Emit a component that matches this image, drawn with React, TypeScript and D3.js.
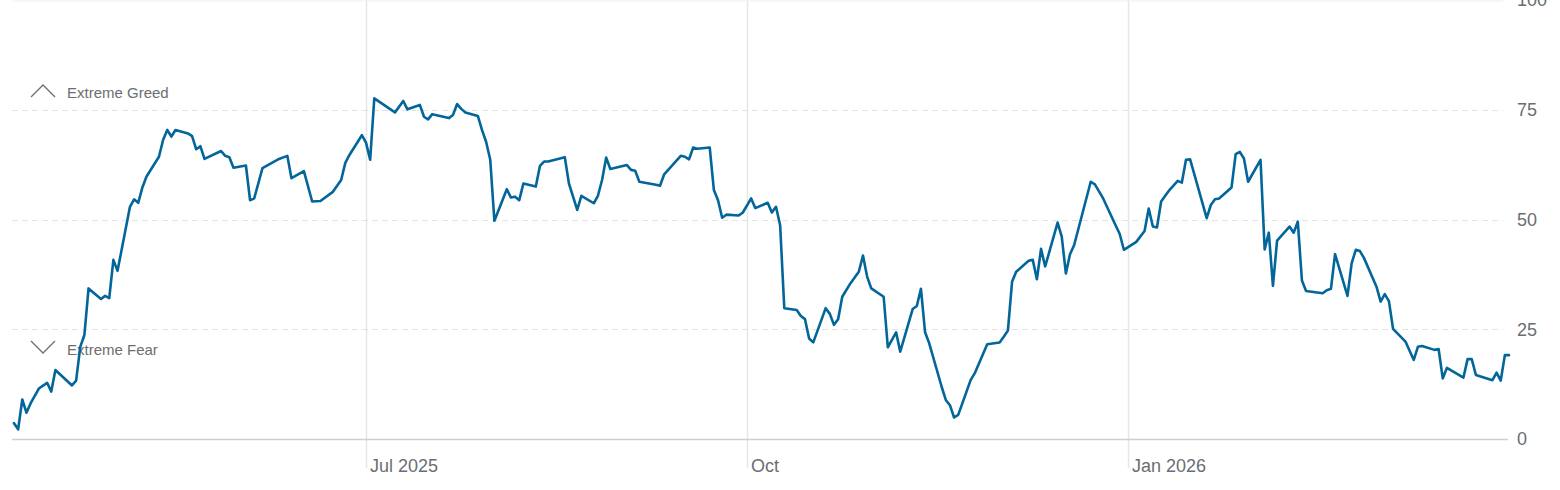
import React from "react";
import * as d3 from "d3";

// ---- data ----
const START_DATE = "2025-04-07";
const END_DATE = "2026-04-03";
// days since START_DATE
const dayOffsets = [0,1,2,3,4,6,8,9,10,14,15,16,17,18,21,22,23,24,25,28,29,30,31,32,35,36,37,38,39,42,43,44,45,46,50,51,52,53,56,57,58,60,64,66,67,70,72,74,77,79,80,81,84,85,86,87,92,94,95,98,99,100,101,105,106,107,108,109,112,113,114,115,116,119,120,121,122,123,126,127,128,129,133,134,136,137,140,141,142,143,144,148,149,150,151,155,156,157,161,162,163,164,165,168,169,170,171,172,175,176,178,179,182,183,184,185,186,189,190,191,192,193,196,197,198,199,200,202,204,205,206,207,210,211,212,213,214,217,218,219,220,221,224,225,226,227,228,231,232,235,238,239,240,241,242,245,246,247,248,249,252,253,254,255,256,260,261,263,266,267,268,271,273,274,275,276,277,279,281,282,283,284,288,289,290,291,294,295,296,297,298,301,302,303,304,305,308,309,310,311,312,316,317,318,319,322,323,324,325,326,329,330,331,332,333,336,338,339,340,343,344,345,346,350,351,352,353,357,358,359,360,361];
const fearGreed = [3.6,2.2,9.0,6.0,8.1,11.5,12.8,10.8,15.7,12.2,13.3,21.0,23.7,34.3,31.9,32.6,32.1,40.8,38.3,52.9,54.6,53.8,57.3,59.8,64.3,68.1,70.4,68.9,70.4,69.6,69.0,66.0,66.7,63.8,65.6,64.5,64.2,61.8,62.3,54.4,54.8,61.7,63.8,64.5,59.4,61.0,54.1,54.2,56.3,59.0,62.9,64.7,69.2,67.5,63.6,77.6,74.4,77.0,75.1,76.1,73.4,72.8,74.0,73.1,73.8,76.3,75.2,74.4,73.6,70.4,67.7,63.6,49.7,56.9,55.0,55.2,54.4,58.2,57.5,62.2,63.2,63.2,64.2,58.2,52.2,55.4,53.7,55.4,59.0,64.1,61.5,62.4,61.3,61.1,58.6,57.9,57.7,60.3,64.5,64.3,63.7,66.4,66.1,66.4,56.7,54.4,50.4,51.1,50.9,51.6,54.8,52.6,53.8,51.6,52.9,48.7,29.8,29.4,28.0,27.3,22.9,22.0,29.8,28.5,26.0,27.3,32.4,35.5,38.1,41.8,37.0,34.3,32.4,20.9,22.6,24.3,19.9,29.6,30.3,34.2,24.3,21.8,11.9,8.9,7.7,4.9,5.5,13.4,15.0,21.6,22.0,23.3,24.7,35.8,38.1,40.6,40.8,36.4,43.3,39.3,49.3,46.1,37.7,42.1,44.2,58.6,58.0,54.8,48.7,46.7,43.1,44.9,47.4,52.5,48.4,48.2,54.1,56.7,58.8,58.4,63.6,63.7,50.3,53.3,54.6,54.8,57.3,64.9,65.4,63.9,58.6,63.6,43.2,47.0,34.9,45.2,48.4,47.0,49.5,36.1,33.7,33.2,33.9,34.2,42.1,32.6,40.0,43.1,42.8,41.2,34.7,31.3,33.0,31.4,25.1,22.2,18.0,21.0,21.2,20.3,20.5,13.8,16.2,14.0,18.2,18.2,14.6,13.4,15.1,13.3,19.1,19.1];

const xTickDates = ["2025-07-01", "2025-10-01", "2026-01-01"];
const xTickLabels = ["Jul 2025", "Oct", "Jan 2026"];
const yTicks = [0, 25, 50, 75, 100];
const zoneLabels = ["Extreme Greed", "Extreme Fear"];

const W = 1560;
const H = 490;
const FONT = "'Liberation Sans', Arial, Helvetica, sans-serif";
const LABEL_COLOR = "#6b6e71";

export default function App() {
  const parse = d3.utcParse("%Y-%m-%d");
  const start = parse(START_DATE)!;
  const end = parse(END_DATE)!;

  const x = d3.scaleUtc().domain([start, end]).range([14, 1509]);
  const y = d3.scaleLinear().domain([0, 100]).range([439, 0]);

  const points = dayOffsets.map((d, i) => ({
    date: d3.utcDay.offset(start, d),
    value: fearGreed[i],
  }));

  const line = d3
    .line<{ date: Date; value: number }>()
    .x((d) => x(d.date))
    .y((d) => y(d.value))
    .curve(d3.curveLinear);

  const gridLeft = 12;
  const gridRight = 1503;

  return (
    <svg
      width={W}
      height={H}
      style={{ position: "absolute", left: 0, top: 0, background: "#fff" }}
      fontFamily={FONT}
    >
      {/* vertical month grid */}
      {xTickDates.map((ds, i) => {
        const xv = Math.round(x(parse(ds)!)) + 0.5;
        return (
          <g key={ds}>
            <line x1={xv} x2={xv} y1={0} y2={468} stroke="#e6e6e6" strokeWidth={1.5} />
            <text x={xv + 3.5} y={472} fontSize={18} fill={LABEL_COLOR}>
              {xTickLabels[i]}
            </text>
          </g>
        );
      })}

      {/* horizontal grid */}
      {yTicks.map((t) => {
        const yv = t === 100 ? 1 : Math.round(y(t)) + 0.5;
        if (t === 0) {
          return (
            <line key={t} x1={gridLeft} x2={1508} y1={yv} y2={yv} stroke="#cfcfcf" strokeWidth={1.5} />
          );
        }
        if (t === 100) {
          return (
            <line key={t} x1={gridLeft} x2={gridRight} y1={yv} y2={yv} stroke="#efefef" strokeWidth={1} />
          );
        }
        return (
          <line
            key={t}
            x1={gridLeft}
            x2={gridRight}
            y1={yv}
            y2={yv}
            stroke="#e3e3e3"
            strokeWidth={1}
            strokeDasharray="6,4"
          />
        );
      })}

      {/* y labels */}
      {yTicks.map((t) => (
        <text
          key={"yl" + t}
          x={1517}
          y={y(t)}
          dy="0.35em"
          fontSize={18}
          fill={LABEL_COLOR}
        >
          {t}
        </text>
      ))}

      {/* zone labels */}
      <g>
        <path
          d={`M31,97 L43,85 L55,97`}
          fill="none"
          stroke={LABEL_COLOR}
          strokeWidth={1.3}
        />
        <text x={67} y={92.5} dy="0.35em" fontSize={15} fill={LABEL_COLOR}>
          {zoneLabels[0]}
        </text>
        <path
          d={`M31,341 L43,353 L55,341`}
          fill="none"
          stroke={LABEL_COLOR}
          strokeWidth={1.3}
        />
        <text x={67} y={349.5} dy="0.35em" fontSize={15} fill={LABEL_COLOR}>
          {zoneLabels[1]}
        </text>
      </g>

      {/* series */}
      <path
        d={line(points) ?? ""}
        fill="none"
        stroke="#03669a"
        strokeWidth={2.6}
        strokeLinejoin="round"
        strokeLinecap="round"
      />
    </svg>
  );
}
